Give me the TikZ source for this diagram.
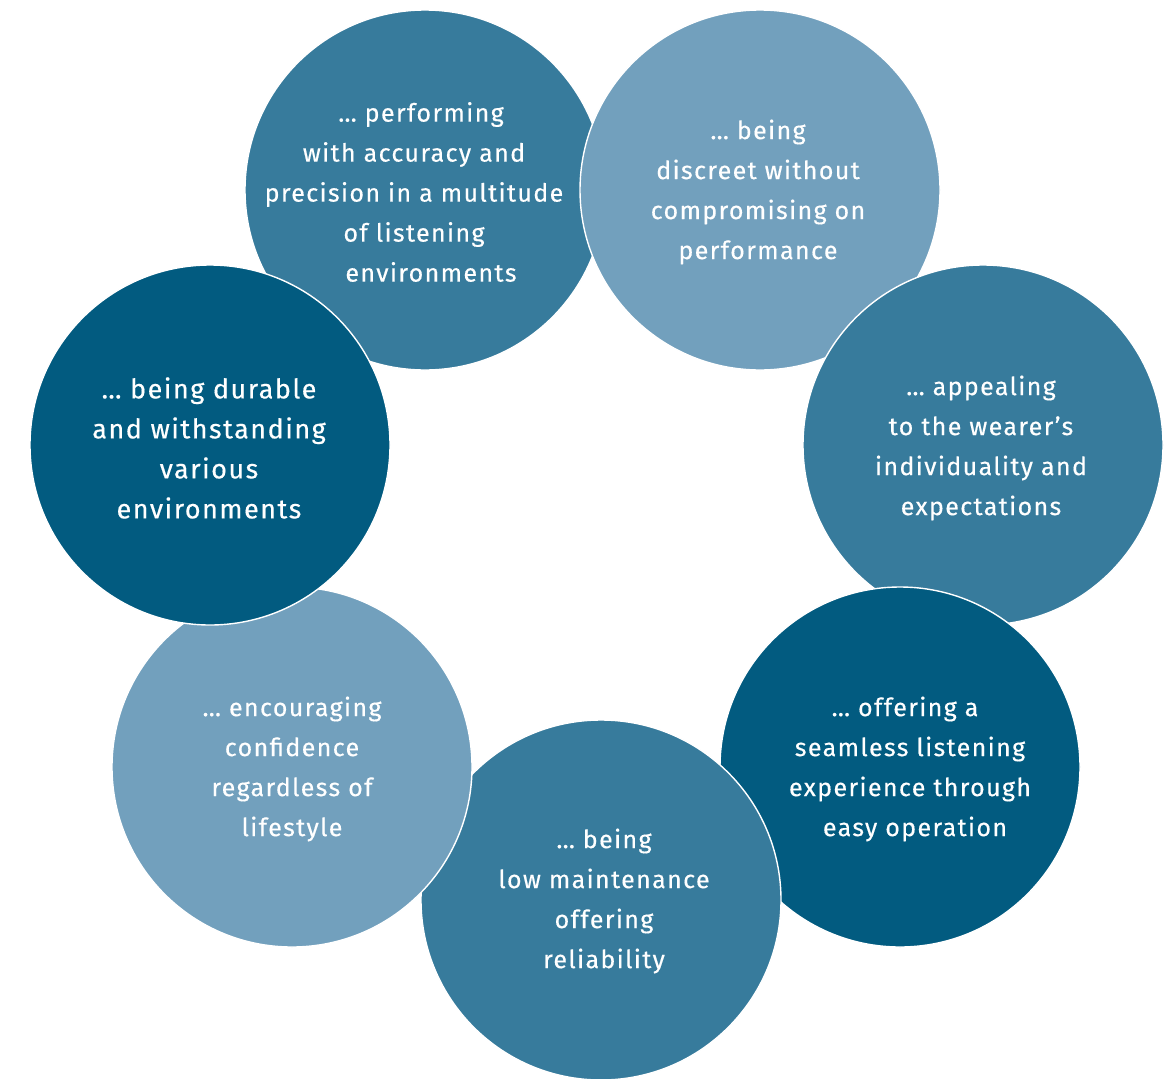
\documentclass[tikz,border=0pt]{standalone}
\usepackage{fontspec}
\setmainfont[LetterSpace=5.5,FakeBold=0.4]{Fira Sans}
\definecolor{cmed}{HTML}{377B9C}
\definecolor{clight}{HTML}{72A0BD}
\definecolor{cdark}{HTML}{025B80}
\tikzset{
  bubble/.style={circle, draw=white, line width=1.4pt, minimum size=360pt, inner sep=0pt},
  txt/.style={text=white, align=center, font=\fontsize{25}{40}\selectfont, inner sep=0pt},
  bigtxt/.style={txt, font=\fontsize{27}{40}\selectfont}
}
\begin{document}
\begin{tikzpicture}[x=1pt,y=-1pt]
\useasboundingbox (0,0) rectangle (1173,1079);
\node[bubble, fill=cmed]   (c1) at (425,190) {};
\node[bubble, fill=clight] (c2) at (760,190) {};
\node[bubble, fill=cmed]   (c3) at (983,445) {};
\node[bubble, fill=cdark]  (c4) at (900,767) {};
\node[bubble, fill=cmed]   (c5) at (601,900) {};
\node[bubble, fill=clight] (c6) at (292,767) {};
\node[bubble, fill=cdark]  (c7) at (210,445) {};
\node[txt] (t1) at (414,192) {\hspace*{14pt}… performing\\with accuracy and\\precision in a multitude\\of listening\\\hspace*{34pt}environments};
\node[txt] (t2) at (758,192) {… being\\discreet without\\compromising on\\performance};
\node[txt] (t3) at (981,448) {… appealing\\to the wearer’s\\individuality and\\expectations};
\node[txt] (t4) at (910,769) {… offering a\hspace*{10pt}\\seamless listening\hspace*{20pt}\\experience through\\\hspace*{10pt}easy operation};
\node[txt] (t5) at (604,901) {… being\\low maintenance\\offering\\reliability};
\node[txt] (t6) at (292,769) {… encouraging\\confidence\\regardless of\\lifestyle};
\node[bigtxt] (t7) at (209,448) {… being durable\\and withstanding\\various\\environments};
\end{tikzpicture}
\end{document}
